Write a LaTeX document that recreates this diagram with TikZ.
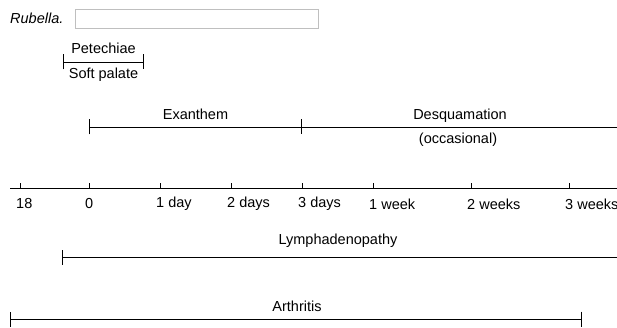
\documentclass[tikz,border=0pt]{standalone}
\usepackage{fontspec}
\setmainfont{Liberation Sans}
\usetikzlibrary{arrows.meta, positioning}
\tikzstyle{term} = [inner sep=0pt, font=\fontsize{14.5}{17}\selectfont]
\tikzstyle{ticklabel} = [term, anchor=west]
\tikzstyle{bothbar} = [line width=0.8pt, {Bar[width=15pt]}-{Bar[width=15pt]}]
\tikzstyle{leftbar} = [line width=0.8pt, {Bar[width=15pt]}-]
\tikzstyle{plain} = [line width=0.8pt]

\begin{document}
\begin{tikzpicture}[x=1pt, y=-1pt]
\useasboundingbox (0,0) rectangle (617,328);

% Title and empty box
\node (title) [term, anchor=west] at (10,18) {\itshape Rubella.};
\draw [line width=0.8pt, draw=black!25] (75,9) rectangle (318,28);

% Petechiae on the soft palate
\coordinate (petA) at (63,62);
\coordinate (petB) at (144,62);
\draw [bothbar] (petA) -- (petB);
\node (petechiae) [term] at (103.5,48) {Petechiae};
\node (palate) [term] at (103.5,75) {Soft palate};

% Exanthem and desquamation
\coordinate (exA) at (89,127);
\coordinate (exB) at (302,127);
\coordinate (desqB) at (617,127);
\draw [bothbar] (exA) -- (exB);
\draw [plain] (exB) -- (desqB);
\node (exanthem) [term] at (195.5,114) {Exanthem};
\node (desq) [term] at (460,116) {Desquamation};
\node (occ) [term] at (458,140) {(occasional)};

% Time axis
\coordinate (axA) at (10,188);
\coordinate (axB) at (617,188);
\draw [plain] (axA) -- (axB);
\foreach \x/\txt/\nm in {20/18/t18, 89/0/t0, 160/1 day/tday, 231/2 days/ttwo,
  302/3 days/tthree, 373/1 week/tweek, 471/2 weeks/twweek, 569/3 weeks/tthweek} {
  \draw [plain] (\x,188) -- ++(0,-5);
  \node (\nm) [ticklabel] at (\x-4,204) {\txt};
}

% Lymphadenopathy
\coordinate (lymA) at (62,257);
\coordinate (lymB) at (617,257);
\draw [leftbar] (lymA) -- (lymB);
\node (lymph) [term] at (338,241) {Lymphadenopathy};

% Arthritis
\coordinate (artA) at (10,319);
\coordinate (artB) at (582,319);
\draw [bothbar] (artA) -- (artB);
\node (arthritis) [term] at (297,306) {Arthritis};
\end{tikzpicture}
\end{document}
